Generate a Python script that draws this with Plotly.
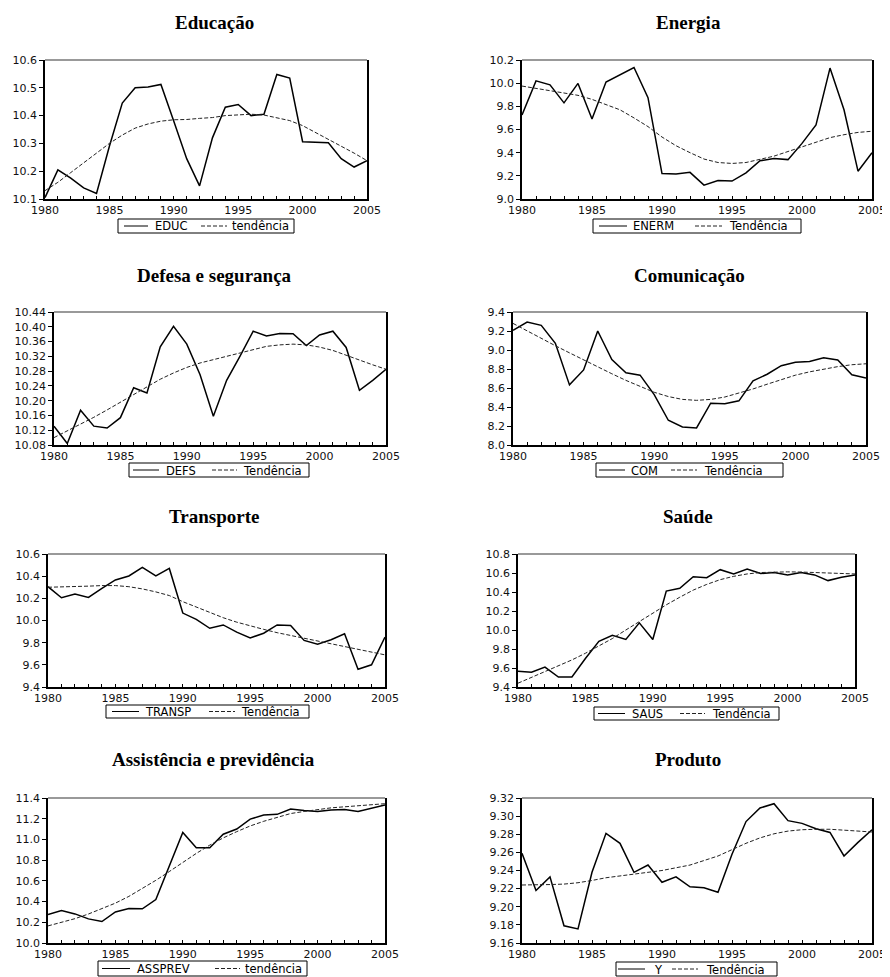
import plotly.graph_objects as go

years = list(range(1980, 2006))

titles = ["Educação", "Energia", "Defesa e segurança", "Comunicação",
          "Transporte", "Saúde", "Assistência e previdência", "Produto"]
series_names = ["EDUC", "ENERM", "DEFS", "COM", "TRANSP", "SAUS", "ASSPREV", "Y"]
trend_names = ["tendência", "Tendência", "Tendência", "Tendência",
               "Tendência", "Tendência", "tendência", "Tendência"]

educ = [10.105, 10.205, 10.175, 10.14, 10.12, 10.29, 10.445, 10.50, 10.503, 10.512,
        10.38, 10.245, 10.147, 10.32, 10.43, 10.44, 10.40, 10.405, 10.548, 10.535,
        10.306, 10.305, 10.302, 10.245, 10.215, 10.238]
educ_trend = [10.13, 10.16, 10.195, 10.23, 10.265, 10.30, 10.33, 10.355, 10.37, 10.38,
              10.385, 10.386, 10.39, 10.393, 10.40, 10.402, 10.405, 10.402, 10.393, 10.382,
              10.364, 10.34, 10.316, 10.29, 10.265, 10.238]

enerm = [9.725, 10.02, 9.985, 9.83, 9.998, 9.69, 10.01, 10.07, 10.135, 9.875,
         9.22, 9.215, 9.23, 9.12, 9.16, 9.155, 9.225, 9.33, 9.35, 9.34,
         9.48, 9.64, 10.13, 9.77, 9.24, 9.40]
enerm_trend = [9.975, 9.955, 9.94, 9.92, 9.895, 9.86, 9.815, 9.77, 9.70, 9.625,
               9.535, 9.46, 9.40, 9.345, 9.315, 9.307, 9.315, 9.34, 9.37, 9.41,
               9.45, 9.495, 9.53, 9.555, 9.575, 9.585]

defs = [10.131, 10.084, 10.174, 10.131, 10.126, 10.154, 10.235, 10.221, 10.346, 10.401,
        10.353, 10.27, 10.158, 10.255, 10.32, 10.388, 10.375, 10.382, 10.381, 10.349,
        10.378, 10.388, 10.344, 10.228, 10.255, 10.285]
defs_trend = [10.10, 10.118, 10.136, 10.155, 10.175, 10.196, 10.217, 10.238, 10.258, 10.275,
              10.29, 10.302, 10.311, 10.32, 10.33, 10.34, 10.347, 10.351, 10.353, 10.351,
              10.345, 10.336, 10.324, 10.31, 10.297, 10.285]

com = [9.207, 9.295, 9.26, 9.07, 8.633, 8.79, 9.20, 8.90, 8.76, 8.735,
       8.53, 8.26, 8.19, 8.18, 8.44, 8.435, 8.465, 8.675, 8.745, 8.835,
       8.872, 8.88, 8.918, 8.895, 8.74, 8.705]
com_trend = [9.28, 9.20, 9.125, 9.045, 8.97, 8.895, 8.82, 8.75, 8.68, 8.615,
             8.555, 8.51, 8.48, 8.47, 8.48, 8.505, 8.545, 8.59, 8.64, 8.69,
             8.735, 8.77, 8.80, 8.825, 8.845, 8.855]

transp = [10.305, 10.205, 10.238, 10.208, 10.29, 10.366, 10.402, 10.48, 10.402, 10.47,
          10.067, 10.01, 9.93, 9.96, 9.895, 9.843, 9.885, 9.96, 9.955, 9.82,
          9.786, 9.826, 9.88, 9.56, 9.60, 9.85]
transp_trend = [10.30, 10.302, 10.307, 10.31, 10.315, 10.315, 10.305, 10.285, 10.258, 10.225,
                10.17, 10.12, 10.072, 10.025, 9.985, 9.95, 9.92, 9.89, 9.865, 9.84,
                9.815, 9.79, 9.765, 9.74, 9.715, 9.69]

saus = [9.565, 9.555, 9.61, 9.505, 9.505, 9.70, 9.88, 9.945, 9.90, 10.075,
        9.90, 10.41, 10.44, 10.56, 10.55, 10.635, 10.59, 10.642, 10.595, 10.605,
        10.58, 10.605, 10.58, 10.52, 10.555, 10.58]
saus_trend = [9.44, 9.50, 9.56, 9.62, 9.685, 9.755, 9.83, 9.91, 10.00, 10.09,
              10.18, 10.265, 10.345, 10.42, 10.48, 10.53, 10.565, 10.59, 10.605, 10.61,
              10.612, 10.61, 10.605, 10.60, 10.595, 10.59]

assprev = [10.275, 10.314, 10.281, 10.233, 10.207, 10.30, 10.333, 10.33, 10.42, 10.75,
           11.067, 10.92, 10.92, 11.05, 11.10, 11.196, 11.235, 11.242, 11.293, 11.28,
           11.27, 11.285, 11.29, 11.27, 11.30, 11.332]
assprev_trend = [10.165, 10.20, 10.235, 10.28, 10.33, 10.385, 10.45, 10.525, 10.605, 10.69,
                 10.78, 10.865, 10.945, 11.015, 11.075, 11.13, 11.175, 11.215, 11.25, 11.27,
                 11.29, 11.305, 11.315, 11.325, 11.335, 11.345]

y_prod = [9.259, 9.218, 9.233, 9.179, 9.1755, 9.238, 9.281, 9.270, 9.238, 9.246,
          9.227, 9.233, 9.222, 9.221, 9.216, 9.258, 9.294, 9.309, 9.3137, 9.295,
          9.292, 9.286, 9.282, 9.256, 9.271, 9.285]
y_trend = [9.224, 9.224, 9.2245, 9.225, 9.2265, 9.229, 9.232, 9.234, 9.236, 9.238,
           9.240, 9.243, 9.246, 9.251, 9.256, 9.263, 9.270, 9.276, 9.2805, 9.2835,
           9.285, 9.2855, 9.2855, 9.2845, 9.2835, 9.2825]

values = [educ, enerm, defs, com, transp, saus, assprev, y_prod]
trends = [educ_trend, enerm_trend, defs_trend, com_trend,
          transp_trend, saus_trend, assprev_trend, y_trend]

y_ranges = [(10.1, 10.6), (9.0, 10.2), (10.08, 10.44), (8.0, 9.4),
            (9.4, 10.6), (9.4, 10.8), (10.0, 11.4), (9.16, 9.32)]
y_dticks = [0.1, 0.2, 0.04, 0.2, 0.2, 0.2, 0.2, 0.02]
y_formats = [".1f", ".1f", ".2f", ".1f", ".1f", ".1f", ".1f", ".2f"]
x_ticks = [1980, 1985, 1990, 1995, 2000, 2005]

# ---- page geometry (pixels in the 890x977 window) ----
PAGE_OFF = 8                      # default body margin of the html page
W, H = 890 - PAGE_OFF, 977 - PAGE_OFF
plot_px = [  # left, right, top, bottom
    (45, 367, 60, 199), (522, 872, 60, 199),
    (54, 386, 312, 445), (513, 866, 312, 445),
    (48, 385, 554, 687), (518, 855, 554, 687),
    (48, 385, 798, 943), (522, 872, 798, 943),
]
title_px = [(214, 22), (688, 22), (214, 275), (689, 275),
            (214, 516), (688, 516), (213, 759), (688, 759)]
# legend box: x0, x1, y0, y1 ; solid sample x0,x1 ; label1 x ; dashed sample x0,x1 ; label2 x
legend_px = [
    ((118, 294, 219, 233), (124, 148), 153, (201, 227), 230),
    ((593, 801, 219, 233), (599, 627), 631, (695, 722), 727),
    ((129, 309, 463, 477), (133, 159), 164, (212, 237), 241),
    ((596, 783, 463, 477), (599, 625), 629, (671, 697), 702),
    ((106, 309, 705, 718), (112, 139), 143, (209, 235), 239),
    ((594, 779, 707, 720), (598, 625), 630, (680, 705), 710),
    ((98, 307, 961, 976), (102, 130), 135, (215, 240), 243),
    ((616, 777, 962, 976), (618, 645), 652, (672, 698), 704),
]

tick_font = dict(family="DejaVu Sans", size=11, color="#111")
legend_font = dict(family="DejaVu Sans", size=11.5, color="black")


def px(x):
    return (x - PAGE_OFF) / W


def py(y):
    return 1 - (y - PAGE_OFF) / H


fig = go.Figure()
layout = dict(
    width=W, height=H, margin=dict(l=0, r=0, t=0, b=0, autoexpand=False),
    paper_bgcolor="white", plot_bgcolor="white",
    showlegend=False, annotations=[], shapes=[],
)

for i in range(8):
    n = i + 1
    sfx = "" if n == 1 else str(n)
    xa, ya = "x" + sfx, "y" + sfx
    fig.add_trace(go.Scatter(x=years, y=values[i], mode="lines", name=series_names[i],
                             line=dict(color="black", width=1.5),
                             xaxis=xa, yaxis=ya))
    fig.add_trace(go.Scatter(x=years, y=trends[i], mode="lines", name=trend_names[i],
                             line=dict(color="#222", width=1, dash="4px,2px"),
                             xaxis=xa, yaxis=ya))
    l, r, t, b = plot_px[i]
    layout["xaxis" + sfx] = dict(
        domain=[px(l), px(r)], anchor=ya, range=[1980, 2005],
        tickvals=x_ticks, ticks="inside", ticklen=3, tickcolor="black",
        minor=dict(dtick=1, tick0=1980, ticks="inside", ticklen=3, tickcolor="black"),
        showline=True, linecolor="black", linewidth=1.5, mirror=False,
        showgrid=False, zeroline=False, tickfont=tick_font, automargin=False,
    )
    layout["yaxis" + sfx] = dict(
        domain=[py(b), py(t)], anchor=xa, range=list(y_ranges[i]),
        dtick=y_dticks[i], tick0=y_ranges[i][0], tickformat=y_formats[i],
        ticks="outside", ticklen=4, tickcolor="black",
        showline=True, linecolor="black", linewidth=1.5, mirror=True,
        showgrid=False, zeroline=False, tickfont=tick_font, automargin=False,
    )
    # grey top border of the frame
    layout["shapes"].append(dict(type="line", xref=xa + " domain", yref=ya + " domain",
                                 x0=0, x1=1, y0=1, y1=1,
                                 line=dict(color="#999", width=2)))
    # panel title
    tx, ty = title_px[i]
    layout["annotations"].append(dict(
        text="<b>" + titles[i] + "</b>", x=px(tx), y=py(ty), xref="paper", yref="paper",
        xanchor="center", yanchor="middle", showarrow=False,
        font=dict(family="Liberation Serif", size=19, color="black")))
    # legend box
    (bx0, bx1, by0, by1), (s0, s1), t1x, (d0, d1), t2x = legend_px[i]
    ym = (by0 + by1) / 2
    layout["shapes"].append(dict(type="rect", xref="paper", yref="paper",
                                 x0=px(bx0), x1=px(bx1), y0=py(by1), y1=py(by0),
                                 line=dict(color="black", width=1), fillcolor="white"))
    layout["shapes"].append(dict(type="line", xref="paper", yref="paper",
                                 x0=px(s0), x1=px(s1), y0=py(ym), y1=py(ym),
                                 line=dict(color="black", width=1)))
    layout["shapes"].append(dict(type="line", xref="paper", yref="paper",
                                 x0=px(d0), x1=px(d1), y0=py(ym), y1=py(ym),
                                 line=dict(color="#222", width=1, dash="4px,2px")))
    for lbl, lx in ((series_names[i], t1x), (trend_names[i], t2x)):
        layout["annotations"].append(dict(
            text=lbl, x=px(lx), y=py(ym + 0.5), xref="paper", yref="paper",
            xanchor="left", yanchor="middle", showarrow=False, font=legend_font))

fig.update_layout(**layout)
fig.write_html("out.html")
